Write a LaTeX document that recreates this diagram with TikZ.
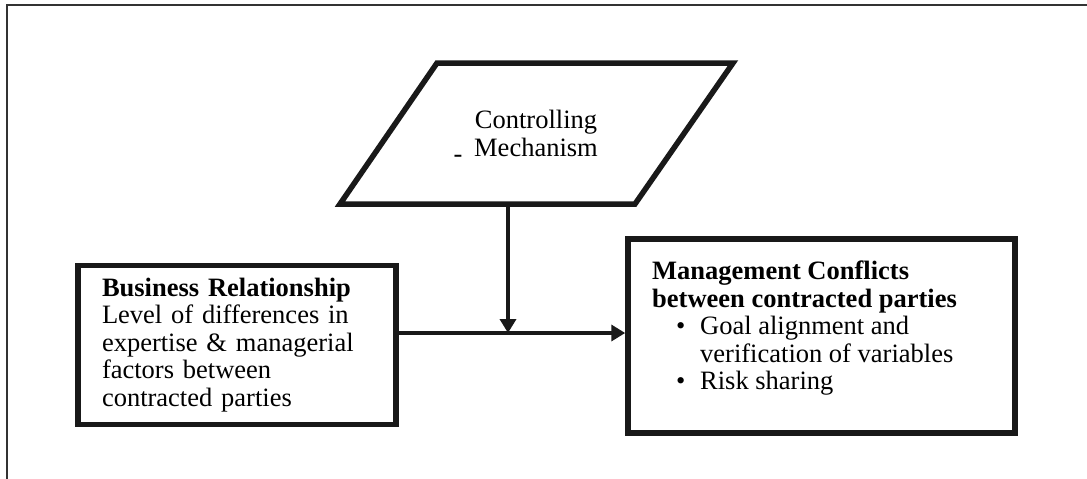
\documentclass[tikz,border=0pt]{standalone}
\usepackage{fontspec}
\setmainfont{Liberation Serif}
\usetikzlibrary{arrows.meta}
\begin{document}
\begin{tikzpicture}[x=1pt,y=-1pt,
  frame/.style={line width=1.8pt, draw=black!80},
  boxnode/.style={draw=black!90, line width=5.5pt, rectangle, inner sep=0pt},
  arr/.style={line width=3.5pt, draw=black!90, -{Triangle[length=14pt,width=16pt]}},
  txt/.style={font=\fontsize{26.5}{27.5}\selectfont, inner sep=0pt}]
\useasboundingbox (0,0) rectangle (1087,479);
% open frame: top and left edges only
\draw[frame] (7,479) -- (7,5) -- (1087,5);

% controlling mechanism (parallelogram)
\coordinate (p1) at (437,63);
\coordinate (p2) at (733,63);
\coordinate (p3) at (635,204);
\coordinate (p4) at (340,204);
\draw[draw=black!90, line width=5.5pt, line join=miter] (p1) -- (p2) -- (p3) -- (p4) -- cycle;
\node[txt, align=center] (cm) at (536,133.5) {Controlling\\Mechanism};
\node[txt, anchor=base] (dash) at (458,162) {-};
\coordinate (pb) at (508,204);

% business relationship
\node[boxnode, txt, minimum width=318pt, minimum height=159pt,
      text width=270pt, align=left] (rel) at (237,345)
  {\textbf{Business Relationship}\\Level of differences in\\expertise \& managerial\\factors between\\contracted parties};

% management conflicts
\node[boxnode, minimum width=387pt, minimum height=194pt] (conf) at (821.5,336) {};
\node[txt, anchor=north west, align=left] (conflab) at (652,261)
  {\textbf{Management Conflicts}\\
   \textbf{between contracted parties}\\
   \makebox[48pt][l]{\hspace{24pt}\textbullet}Goal alignment and\\
   \makebox[48pt]{}verification of variables\\
   \makebox[48pt][l]{\hspace{24pt}\textbullet}Risk sharing};

% connectors
\coordinate (j) at (508,333);
\draw[arr] (pb) -- (j);
\draw[arr] (rel.east |- j) -- (conf.west |- j);
\end{tikzpicture}
\end{document}
